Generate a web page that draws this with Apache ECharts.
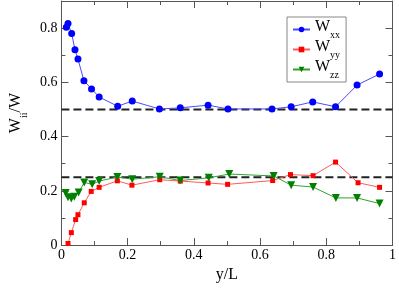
<!DOCTYPE html>
<html>
<head>
<meta charset="utf-8">
<script src="https://cdn.jsdelivr.net/npm/echarts@6/dist/echarts.min.js"></script>
<style>html,body{margin:0;padding:0;background:#fff;}#c{width:399px;height:288px;}</style>
</head>
<body>
<div id="c"></div>
<script>
// ---- data ----
const xxX = [0.015, 0.020, 0.031, 0.041, 0.050, 0.068, 0.091, 0.114, 0.170, 0.214, 0.296, 0.359, 0.443, 0.503, 0.636, 0.694, 0.759, 0.828, 0.893, 0.961];
const xxY = [0.803, 0.817, 0.780, 0.720, 0.686, 0.606, 0.576, 0.546, 0.512, 0.531, 0.502, 0.506, 0.516, 0.502, 0.502, 0.510, 0.528, 0.510, 0.590, 0.631];
const yyX = [0.020, 0.030, 0.043, 0.050, 0.069, 0.090, 0.114, 0.169, 0.213, 0.297, 0.359, 0.443, 0.502, 0.638, 0.692, 0.760, 0.828, 0.896, 0.961];
const yyY = [0.006, 0.046, 0.094, 0.112, 0.156, 0.198, 0.213, 0.237, 0.221, 0.241, 0.236, 0.229, 0.224, 0.238, 0.260, 0.256, 0.306, 0.230, 0.213];
const zzX = [0.013, 0.020, 0.030, 0.039, 0.052, 0.069, 0.093, 0.114, 0.169, 0.214, 0.297, 0.359, 0.445, 0.507, 0.641, 0.694, 0.760, 0.829, 0.893, 0.961];
const zzY = [0.192, 0.176, 0.172, 0.178, 0.194, 0.231, 0.224, 0.236, 0.251, 0.243, 0.252, 0.238, 0.248, 0.262, 0.255, 0.221, 0.214, 0.174, 0.174, 0.153];
const refLevels = [0.5, 0.25];
const xRange = [0, 1];
const yRange = [0, 0.9];
const xTicks = ['0', '0.2', '0.4', '0.6', '0.8', '1'];
const yTicks = ['0', '0.2', '0.4', '0.6', '0.8'];
const seriesNames = ['Wxx', 'Wyy', 'Wzz'];

const FONT = 'Liberation Serif';
const AX = '#555';
const rich = {
  m: { fontFamily: FONT, fontSize: 16, color: '#000', padding: [0, 0, 5, 0], verticalAlign: 'bottom' },
  s: { fontFamily: FONT, fontSize: 10, color: '#000', verticalAlign: 'bottom' }
};
const richY = {
  m: { fontFamily: FONT, fontSize: 16, color: '#000', padding: [0, 0, 5, 0], verticalAlign: 'bottom' },
  s: { fontFamily: FONT, fontSize: 10, color: '#000', verticalAlign: 'bottom' }
};
function pairs(xs, ys) { return xs.map((x, i) => [x, ys[i]]); }
function xLab(v) { const i = Math.round(v / 0.2); return Math.abs(v - i * 0.2) < 1e-6 && xTicks[i] !== undefined ? xTicks[i] : ''; }
function yLab(v) { const i = Math.round(v / 0.2); return Math.abs(v - i * 0.2) < 1e-6 && yTicks[i] !== undefined ? yTicks[i] : ''; }

function xAx(pos, interval, len, main) {
  return {
    type: 'value', position: pos, min: xRange[0], max: xRange[1], interval: interval,
    axisLine: { show: main, onZero: false, lineStyle: { color: AX, width: 1 } },
    axisTick: { show: true, inside: true, length: len, lineStyle: { color: AX } },
    axisLabel: { show: main && pos === 'bottom', fontFamily: FONT, fontSize: 14, color: '#000', margin: 3, formatter: xLab },
    splitLine: { show: false }
  };
}
function yAx(pos, interval, len, main) {
  return {
    type: 'value', position: pos, min: yRange[0], max: yRange[1], interval: interval,
    axisLine: { show: main, onZero: false, lineStyle: { color: AX, width: 1 } },
    axisTick: { show: true, inside: true, length: len, lineStyle: { color: AX } },
    axisLabel: { show: main && pos === 'left', fontFamily: FONT, fontSize: 14, color: '#000', margin: 4, formatter: yLab },
    splitLine: { show: false }
  };
}
const xAxes = [xAx('bottom', 0.2, 7, true), xAx('bottom', 0.1, 4, false), xAx('top', 0.2, 7, true), xAx('top', 0.1, 4, false)];
Object.assign(xAxes[0], { name: 'y/L', nameLocation: 'middle', nameGap: 20, nameTextStyle: { fontFamily: FONT, fontSize: 16, color: '#000' } });
const yAxes = [yAx('left', 0.2, 7, true), yAx('left', 0.1, 4, false), yAx('right', 0.2, 7, true), yAx('right', 0.1, 4, false)];
Object.assign(yAxes[0], { name: '{m|W}{s|ii}{m|/W}', nameLocation: 'middle', nameGap: 21, nameRotate: 90, nameTextStyle: { rich: richY, padding: [0, 0, 0, 20] } });

const styles = [
  { color: '#0000ff', line: '#4a4aff', symbol: 'circle', size: 7, rot: 0 },
  { color: '#ff0000', line: '#ff5a5a', symbol: 'rect', size: 5, rot: 0 },
  { color: '#008000', line: '#33a033', symbol: 'triangle', size: 8, rot: 180 }
];
const dataSets = [pairs(xxX, xxY), pairs(yyX, yyY), pairs(zzX, zzY)];
const series = dataSets.map((d, k) => ({
  name: seriesNames[k], type: 'line', data: d, z: 3,
  symbol: styles[k].symbol, symbolSize: styles[k].size, symbolRotate: styles[k].rot,
  itemStyle: { color: styles[k].color },
  lineStyle: { color: styles[k].line, width: 1 },
  animation: false
}));
refLevels.forEach(v => series.push({
  type: 'line', data: xRange.map(x => [x, v]), symbol: 'none', z: 1, silent: true,
  lineStyle: { color: '#222', width: 2, type: [8, 4] }, animation: false
}));

const chart = echarts.init(document.getElementById('c'), null, { renderer: 'canvas' });
chart.setOption({
  animation: false,
  grid: { left: 38, right: 4, top: 1, bottom: 37, containLabel: false },
  xAxis: xAxes,
  yAxis: yAxes,
  legend: {
    data: seriesNames, orient: 'vertical', left: 287, top: 17,
    backgroundColor: '#fff', borderColor: '#888', borderWidth: 1, padding: [2, 6, 2, 5],
    itemWidth: 17, itemHeight: 7, itemGap: -1,
    formatter: n => '{m|W}{s|' + n.slice(1) + '}',
    textStyle: { rich: rich }
  },
  series: series
});
</script>
</body>
</html>
